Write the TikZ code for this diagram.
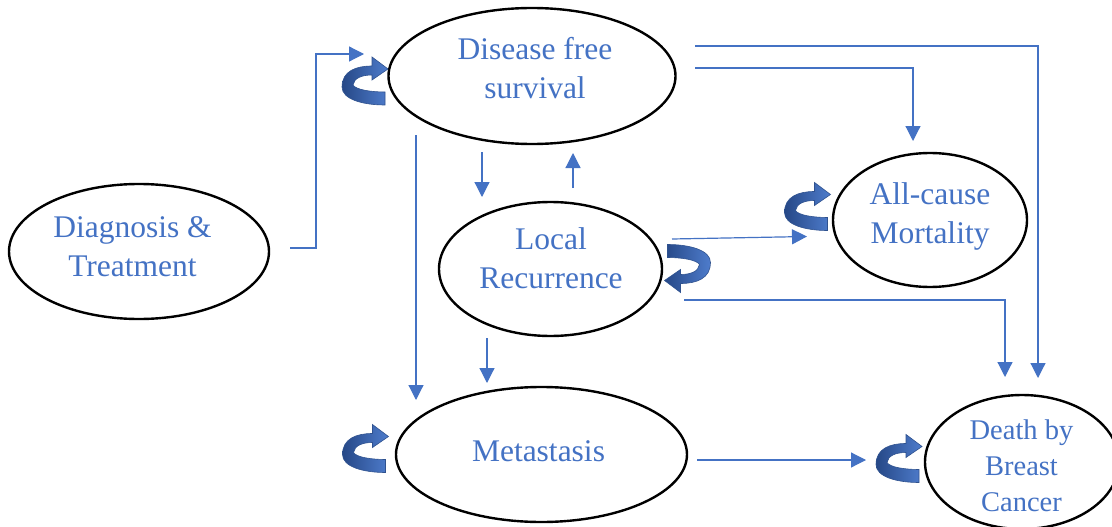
\documentclass[tikz,border=0pt]{standalone}
\usepackage{fontspec}
\setmainfont{Liberation Serif}
\usetikzlibrary{shapes.geometric,arrows.meta}
\definecolor{lineblue}{RGB}{68,114,196}
\definecolor{loopdark}{RGB}{38,72,135}
\definecolor{loopmid}{RGB}{78,124,204}
\definecolor{loopedge}{RGB}{47,82,143}
\tikzset{
  state/.style={ellipse, draw=black, line width=2.4pt, inner sep=0pt},
  lbl/.style={text=lineblue, align=center, font=\fontsize{31.5}{39}\selectfont, inner sep=0pt},
  lblsmall/.style={text=lineblue, align=center, font=\fontsize{28.5}{36}\selectfont, inner sep=0pt},
  flow/.style={draw=lineblue, line width=1.2pt, -{Triangle[length=15pt,width=15pt]}},
  selfloop/.pic={
    \path[left color=loopdark, right color=loopmid, draw=loopedge, line width=0.6pt]
      (20,24) .. controls (-3,24) and (-23,18) .. (-23,6)
      .. controls (-23,-10) and (-9,-15) .. (7,-15)
      -- (7,-24) -- (23,-12) -- (7,-1) -- (7,-6)
      .. controls (-3,-6) and (-11,-3) .. (-12,4)
      .. controls (-9,9) and (7,11) .. (20,11) -- cycle;
  }
}
\begin{document}
\begin{tikzpicture}[x=1pt,y=-1pt]
\useasboundingbox (0,0) rectangle (1112,527);
\fill[white] (0,0) rectangle (1112,527);
\clip (0,0) rectangle (1112,527);

% states
\node[state, minimum width=260pt, minimum height=135pt] (dt)  at (139,251.5) {};
\node[state, minimum width=287pt, minimum height=136pt] (dfs) at (532,76) {};
\node[state, minimum width=223pt, minimum height=134pt] (lr)  at (550.5,269) {};
\node[state, minimum width=194pt, minimum height=134pt] (acm) at (930,220) {};
\node[state, minimum width=291pt, minimum height=135pt] (met) at (541.5,454.5) {};
\node[state, minimum width=194pt, minimum height=134pt] (dbc) at (1022,462) {};

% labels
\node[lbl] (dtT)  at (132.5,246.8) {Diagnosis \&\\Treatment};
\node[lbl] (dfsT) at (535,68.3) {Disease free\\survival};
\node[lbl] (lrT)  at (551,258) {Local\\Recurrence};
\node[lbl] (acmT) at (930,216.7) {All-cause\\Mortality};
\node[lbl] (metT) at (538.5,451.5) {Metastasis};
\node[lblsmall] (dbcT) at (1021.5,466) {Death by\\Breast\\Cancer};

% self loops
\pic at (365,81) {selfloop};
\pic at (807.5,206.5) {selfloop};
\pic at (365.5,448.5) {selfloop};
\pic at (899,458.5) {selfloop};
\pic[rotate=180] at (687.5,268.5) {selfloop};

% connector end points
\coordinate (c1s) at (290,248);
\coordinate (c1a) at (316,248);
\coordinate (c1e) at (364,54);
\coordinate (c2s) at (695,46);
\coordinate (c2e) at (1038,378);
\coordinate (c3s) at (695,68);
\coordinate (c3e) at (913,141);
\coordinate (c4s) at (482,152);
\coordinate (c4e) at (482,197);
\coordinate (c5s) at (573,188);
\coordinate (c5e) at (573,153);
\coordinate (c6s) at (416,135);
\coordinate (c6e) at (416,400);
\coordinate (c7s) at (487,338);
\coordinate (c7e) at (487,383);
\coordinate (c8s) at (672,239);
\coordinate (c8e) at (807,236.5);
\coordinate (c9s) at (684,300);
\coordinate (c9e) at (1005,377);
\coordinate (c10s) at (697,460);
\coordinate (c10e) at (866,460);

% connectors
\draw[flow] (c1s) -- (c1a) |- (c1e);
\draw[flow] (c2s) -| (c2e);
\draw[flow] (c3s) -| (c3e);
\draw[flow] (c4s) -- (c4e);
\draw[flow] (c5s) -- (c5e);
\draw[flow] (c6s) -- (c6e);
\draw[flow] (c7s) -- (c7e);
\draw[flow] (c8s) -- (c8e);
\draw[flow] (c9s) -| (c9e);
\draw[flow] (c10s) -- (c10e);
\end{tikzpicture}
\end{document}
